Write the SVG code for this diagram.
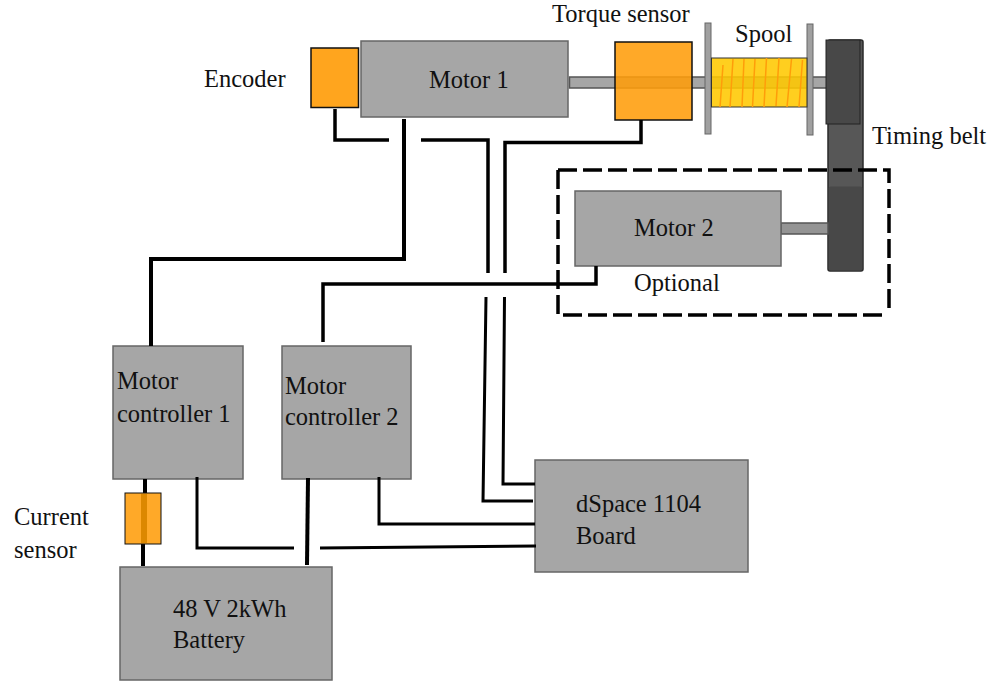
<svg xmlns="http://www.w3.org/2000/svg" width="994" height="681" viewBox="0 0 994 681">
<style>
text{font-family:"Liberation Serif","Times New Roman",serif;font-size:24.500px;fill:#111}
.box{fill:#a6a6a6;stroke:#666;stroke-width:1.5}
.org{fill:#ffa51e;stroke:#111;stroke-width:1.5}
.w{fill:none;stroke:#000;stroke-linejoin:miter}
.w3{stroke-width:3}
.w35{stroke-width:3.500}
.w4{stroke-width:4}
.coil{fill:none;stroke:#ff9d0a;stroke-width:1.5}
.dash{fill:none;stroke:#000;stroke-width:3.500;stroke-dasharray:19 6}
</style>
<rect width="994" height="681" fill="#fff"/>
<g id="shaft1"><rect x="569.5" y="77" width="258" height="11" fill="#a6a6a6" stroke="#555" stroke-width="1.5"/></g>
<g id="belt">
<rect x="828" y="40" width="35" height="231" rx="2" fill="#575757" stroke="#2a2a2a" stroke-width="1.500"/>
<rect x="826" y="40" width="34" height="84" fill="#484848" stroke="#222" stroke-width="1"/>
<rect x="828.700" y="186.500" width="33.600" height="84" rx="2" fill="#484848"/>
</g>
<g id="optional"><path class="dash" d="M558 170H889V311"/><path class="dash" d="M558 170V315H886"/><text x="634" y="291">Optional</text></g>
<g id="shaft2"><rect x="781" y="223" width="47" height="11" fill="#949494" stroke="#555" stroke-width="1.5"/></g>
<g id="motor1"><rect class="box" x="361" y="41" width="207" height="76"/><text x="429" y="88">Motor 1</text></g>
<g id="encoder"><rect class="org" x="311" y="48" width="47.500" height="59.500"/><text x="204" y="87">Encoder</text></g>
<g id="torque"><rect x="615" y="42" width="77" height="78" fill="#ff9d0a" fill-opacity=".88" stroke="#111" stroke-width="1.5"/><text x="552" y="22">Torque sensor</text></g>
<g id="spool">
<rect x="705" y="23" width="6" height="111" fill="#a0a0a0" stroke="#666"/>
<rect x="807" y="24" width="6" height="111" fill="#a0a0a0" stroke="#666"/>
<rect x="711.500" y="58" width="95.500" height="49" fill="#ffc800" fill-opacity=".88" stroke="#333" stroke-width="1"/>
<path class="coil" d="M723 65L720 107M733 59L730 107M744 59L742 107M755 59L752.500 107M766.500 58L764 107M779 58L776 106M791.500 59L787 107M802.500 60L799 107"/>
<text x="735" y="42">Spool</text>
</g>
<text x="872" y="144">Timing belt</text>
<g id="motor2"><rect class="box" x="575" y="191" width="206" height="75"/><text x="634" y="236">Motor 2</text></g>
<g id="controller1"><rect class="box" x="113" y="346" width="130" height="133"/><text x="117" y="389">Motor</text><text x="117" y="422">controller 1</text></g>
<g id="controller2"><rect class="box" x="282" y="346" width="129" height="133"/><text x="285" y="394">Motor</text><text x="285" y="425">controller 2</text></g>
<g id="dspace"><rect class="box" x="535" y="460" width="213" height="112"/><text x="576" y="512">dSpace 1104</text><text x="576" y="544">Board</text></g>
<g id="battery"><rect class="box" x="120" y="567" width="212" height="113"/><text x="173" y="617">48 V 2kWh</text><text x="173" y="648">Battery</text></g>
<g id="connectors">
<path class="w w35" d="M335 109V140H389"/>
<path class="w w4" d="M404 119V259H151V346"/>
<path class="w w35" d="M421 140H488V273"/>
<path class="w w35" d="M641 120V142.500H505V273"/>
<path class="w w35" d="M596 266V284H323V342"/>
<path class="w w3" d="M486 297L483 501H533"/>
<path class="w w3" d="M504.500 297L503 484H535"/>
<path class="w w3" d="M379 477V524H535"/>
<path class="w w3" d="M197 477V548H294"/>
<path class="w w3" d="M320 548L536 546"/>
<path class="w w4" d="M308 478L307 565"/>
<path class="w w4" d="M145 479V493M143 544V566"/>
</g>
<g id="current"><rect x="125" y="493" width="36" height="51" fill="#ff9d0a" fill-opacity=".88" stroke="#111" stroke-width="1"/><rect x="141" y="494" width="6" height="49" fill="#dc8800"/><text x="14" y="525">Current</text><text x="14" y="558">sensor</text></g>
</svg>
